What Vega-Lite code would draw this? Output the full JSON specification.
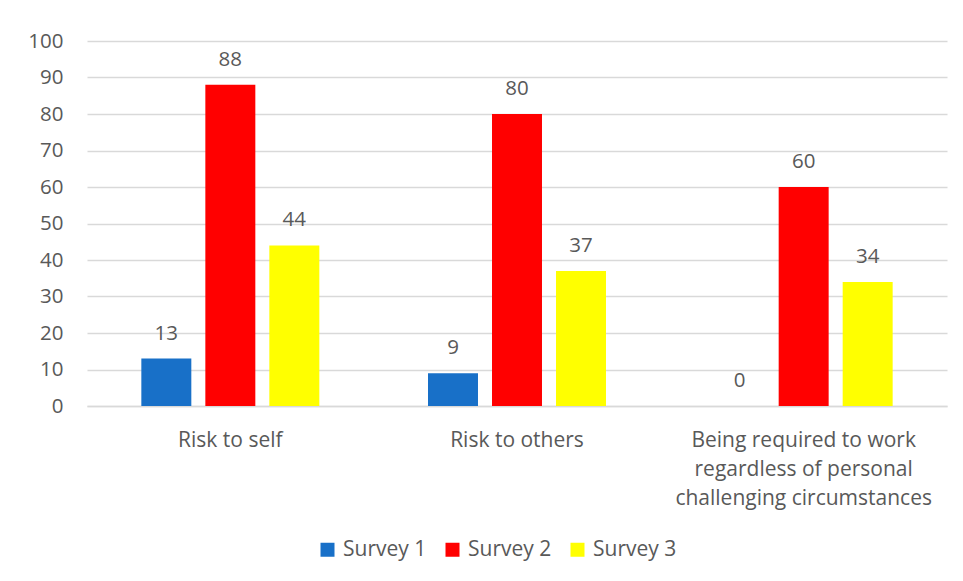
{
  "$schema": "https://vega.github.io/schema/vega-lite/v6.json",
  "autosize": "none",
  "width": 860,
  "height": 365,
  "padding": {"left": 87, "top": 41, "right": 16, "bottom": 175},
  "background": "white",
  "data": {"values": [
    {"cat": "Risk to self", "survey": "Survey 1", "value": 13},
    {"cat": "Risk to self", "survey": "Survey 2", "value": 88},
    {"cat": "Risk to self", "survey": "Survey 3", "value": 44},
    {"cat": "Risk to others", "survey": "Survey 1", "value": 9},
    {"cat": "Risk to others", "survey": "Survey 2", "value": 80},
    {"cat": "Risk to others", "survey": "Survey 3", "value": 37},
    {"cat": "Being required to work regardless of personal challenging circumstances", "survey": "Survey 1", "value": 0},
    {"cat": "Being required to work regardless of personal challenging circumstances", "survey": "Survey 2", "value": 60},
    {"cat": "Being required to work regardless of personal challenging circumstances", "survey": "Survey 3", "value": 34}
  ]},
  "encoding": {
    "x": {
      "field": "cat", "type": "nominal", "sort": null,
      "scale": {"paddingInner": 0, "paddingOuter": 0},
      "axis": {
        "title": null, "labelAngle": 0, "domain": true, "domainColor": "#d9d9d9", "domainWidth": 1.5,
        "ticks": false, "labelFont": "Open Sans", "labelFontSize": 21, "labelColor": "#595959",
        "labelPadding": 23, "labelLineHeight": 29, "labelLimit": 320,
        "labelExpr": "datum.value == 'Being required to work regardless of personal challenging circumstances' ? ['Being required to work', 'regardless of personal', 'challenging circumstances'] : datum.value"
      }
    },
    "xOffset": {
      "field": "survey", "type": "nominal",
      "scale": {"paddingInner": 0.219, "paddingOuter": 0.849}
    },
    "y": {
      "field": "value", "type": "quantitative",
      "scale": {"domain": [0, 100]},
      "axis": {
        "title": null, "values": [0,10,20,30,40,50,60,70,80,90,100], "labelOverlap": false,
        "domain": false, "ticks": false, "grid": true, "gridColor": "#d9d9d9", "gridWidth": 1.5,
        "labelFont": "Open Sans", "labelFontSize": 20.5, "labelColor": "#595959", "labelPadding": 24
      }
    }
  },
  "layer": [
    {
      "mark": {"type": "bar"},
      "encoding": {
        "color": {
          "field": "survey", "type": "nominal",
          "scale": {"domain": ["Survey 1", "Survey 2", "Survey 3"], "range": ["#1870C8", "#FF0000", "#FFFF00"]},
          "legend": {
            "title": null, "orient": "none", "direction": "horizontal",
            "legendX": 230, "legendY": 498,
            "symbolType": "square", "symbolSize": 196, "symbolStrokeWidth": 0,
            "labelFont": "Open Sans", "labelFontSize": 21, "labelColor": "#595959",
            "labelOffset": 5, "columnPadding": 15
          }
        }
      }
    },
    {
      "mark": {"type": "text", "baseline": "bottom", "dy": -15, "font": "Open Sans", "fontSize": 20.5, "color": "#595959"},
      "encoding": {"text": {"field": "value", "type": "quantitative"}}
    }
  ],
  "config": {"view": {"stroke": null}}
}
